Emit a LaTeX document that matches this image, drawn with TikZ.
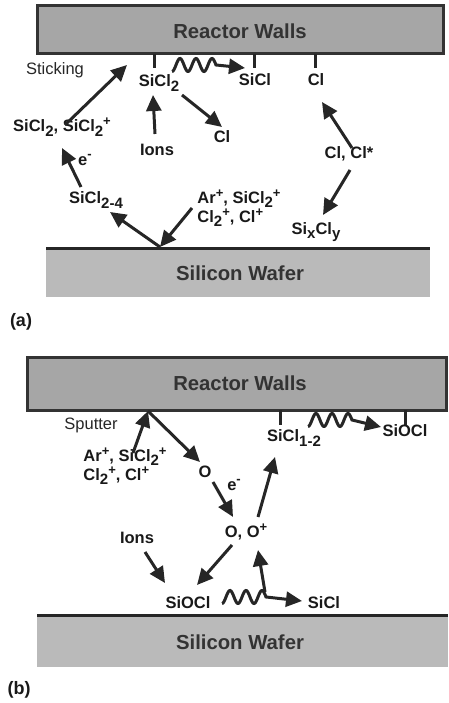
\documentclass[tikz,border=0pt]{standalone}
\usepackage{fontspec}
\setmainfont{Liberation Sans}
\usetikzlibrary{arrows.meta}
\newcommand{\lsub}[1]{\raisebox{-0.5ex}{\fontsize{15}{15}\selectfont #1}}
\newcommand{\lsup}[1]{\raisebox{0.7ex}{\fontsize{13}{13}\selectfont #1}}
\begin{document}
\begin{tikzpicture}[x=1pt,y=-1pt,
  lbl/.style={font=\fontsize{16.5}{18}\selectfont\bfseries, text=black!90, inner sep=0pt},
  plainlbl/.style={font=\fontsize{16.5}{18}\selectfont, text=black!85, inner sep=0pt},
  panellbl/.style={font=\fontsize{18}{20}\selectfont\bfseries, text=black!90, inner sep=0pt},
  big/.style={font=\fontsize{20.3}{22}\selectfont\bfseries, text=black!80, inner sep=0pt},
  arr/.style={line width=3pt, draw=black!85, -{Triangle[length=16pt,width=15pt]}},
  wall/.style={draw=black!80, line width=3pt, fill=black!35},
  wafer/.style={fill=black!27, draw=none},
  surf/.style={line width=3pt, draw=black!85},
  tick/.style={line width=3pt, draw=black!85}]
\useasboundingbox (0,0) rectangle (448,703);

% ---------------- panel (a) ----------------
\draw[wall] (37,6) rectangle (443,54);
\node[big] (rwA) at (240,31) {Reactor Walls};
\fill[wafer] (46,248) rectangle (430,297);
\draw[surf] (46,248) -- (430,248);
\node[big] (swA) at (240,273) {Silicon Wafer};
\node[panellbl] (labA) at (21,322) {(a)};

\draw[tick] (154,54) -- (154,68);
\draw[tick] (254,54) -- (254,68);
\draw[tick] (315,54) -- (315,68);

\node[plainlbl] (stick) at (55,70) {Sticking};
\node[lbl] (sicl2w) at (159,83) {SiCl\lsub{2}};
\node[lbl] (siclw) at (255,80) {SiCl};
\node[lbl] (clw) at (316,80) {Cl};
\node[lbl] (sicl2p) at (62,127) {SiCl\lsub{2}, SiCl\lsub{2}\lsup{+}};
\node[lbl] (ionsA) at (157,150) {Ions};
\node[lbl] (clA) at (222,137) {Cl};
\node[lbl] (clcl) at (349,154) {Cl, Cl*};
\node[lbl] (sicl24) at (96,200) {SiCl\lsub{2-4}};
\node[lbl] (emA) at (85,160) {e\lsup{-}};
\node[lbl, align=left] (arpA) at (239,208) {Ar\lsup{+}, SiCl\lsub{2}\lsup{+}\\Cl\lsub{2}\lsup{+}, Cl\lsup{+}};
\node[lbl] (sixcly) at (316,232) {Si\lsub{x}Cl\lsub{y}};

\coordinate (stickTip) at (127,65);
\coordinate (stickTail) at (65,125);
\coordinate (eTail) at (81,187);
\coordinate (eTip) at (62,148);
\coordinate (ionsTail) at (155,134);
\coordinate (ionsTip) at (153,95);
\coordinate (clTail) at (182,95);
\coordinate (clTip) at (222,127);
\coordinate (ccUpTail) at (352,148);
\coordinate (ccUpTip) at (322,102);
\coordinate (ccDnTail) at (350,170);
\coordinate (ccDnTip) at (323,215);
\coordinate (hitA) at (160,247);
\coordinate (s24Tip) at (110,212);
\coordinate (arTail) at (192,208);
\coordinate (waveAs) at (172,65);
\coordinate (waveAe) at (245,68);

\draw[arr] (stickTail) -- (stickTip);
\draw[arr] (eTail) -- (eTip);
\draw[arr] (ionsTail) -- (ionsTip);
\draw[arr] (clTail) -- (clTip);
\draw[arr] (ccUpTail) -- (ccUpTip);
\draw[arr] (ccDnTail) -- (ccDnTip);
\draw[arr] (hitA) -- (s24Tip);
\draw[arr] (arTail) -- (hitA);
\draw[arr] plot[shift={(waveAs)}, domain=0:2.75, samples=60, smooth] ({16*\x},{6.5*cos(360*\x)}) -- (waveAe);

% ---------------- panel (b) ----------------
\draw[wall] (27,357) rectangle (446,410);
\node[big] (rwB) at (240,383) {Reactor Walls};
\fill[wafer] (37,615) rectangle (448,667);
\draw[surf] (37,615) -- (448,615);
\node[big] (swB) at (240,642) {Silicon Wafer};
\node[panellbl] (labB) at (19,690) {(b)};

\draw[tick] (280,410) -- (280,425);
\draw[tick] (405,410) -- (405,425);

\node[plainlbl] (sputter) at (91,425) {Sputter};
\node[lbl, align=left] (arpB) at (125,466) {Ar\lsup{+}, SiCl\lsub{2}\lsup{+}\\Cl\lsub{2}\lsup{+}, Cl\lsup{+}};
\node[lbl] (oB) at (205,472) {O};
\node[lbl] (emB) at (234,485) {e\lsup{-}};
\node[lbl] (sicl12) at (294,438) {SiCl\lsub{1-2}};
\node[lbl] (siocltop) at (405,431) {SiOCl};
\node[lbl] (oo) at (246,532) {O, O\lsup{+}};
\node[lbl] (ionsB) at (137,538) {Ions};
\node[lbl] (sioclB) at (188,603) {SiOCl};
\node[lbl] (siclB) at (324,603) {SiCl};

\coordinate (hitB) at (148,411);
\coordinate (arBTail) at (133,453);
\coordinate (oTip) at (200,462);
\coordinate (eBTail) at (213,482);
\coordinate (eBTip) at (233,517);
\coordinate (ooUpTail) at (258,517);
\coordinate (ooUpTip) at (275,457);
\coordinate (ionsBTail) at (145,552);
\coordinate (ionsBTip) at (165,583);
\coordinate (ooDnTail) at (232,545);
\coordinate (ooDnTip) at (197,585);
\coordinate (upTail) at (265,592);
\coordinate (upTip) at (258,550);
\coordinate (waveBs) at (308,420);
\coordinate (waveBe) at (381,427);
\coordinate (waveCs) at (222,597);
\coordinate (waveCe) at (302,601);

\draw[arr] (arBTail) -- (hitB);
\draw[arr] (hitB) -- (oTip);
\draw[arr] (eBTail) -- (eBTip);
\draw[arr] (ooUpTail) -- (ooUpTip);
\draw[arr] (ionsBTail) -- (ionsBTip);
\draw[arr] (ooDnTail) -- (ooDnTip);
\draw[arr] (upTail) -- (upTip);
\draw[arr] plot[shift={(waveBs)}, domain=0:2.75, samples=60, smooth] ({16*\x},{6.5*cos(360*\x)}) -- (waveBe);
\draw[arr] plot[shift={(waveCs)}, domain=0:2.75, samples=60, smooth] ({16*\x},{6.5*cos(360*\x)}) -- (waveCe);
\end{tikzpicture}
\end{document}
